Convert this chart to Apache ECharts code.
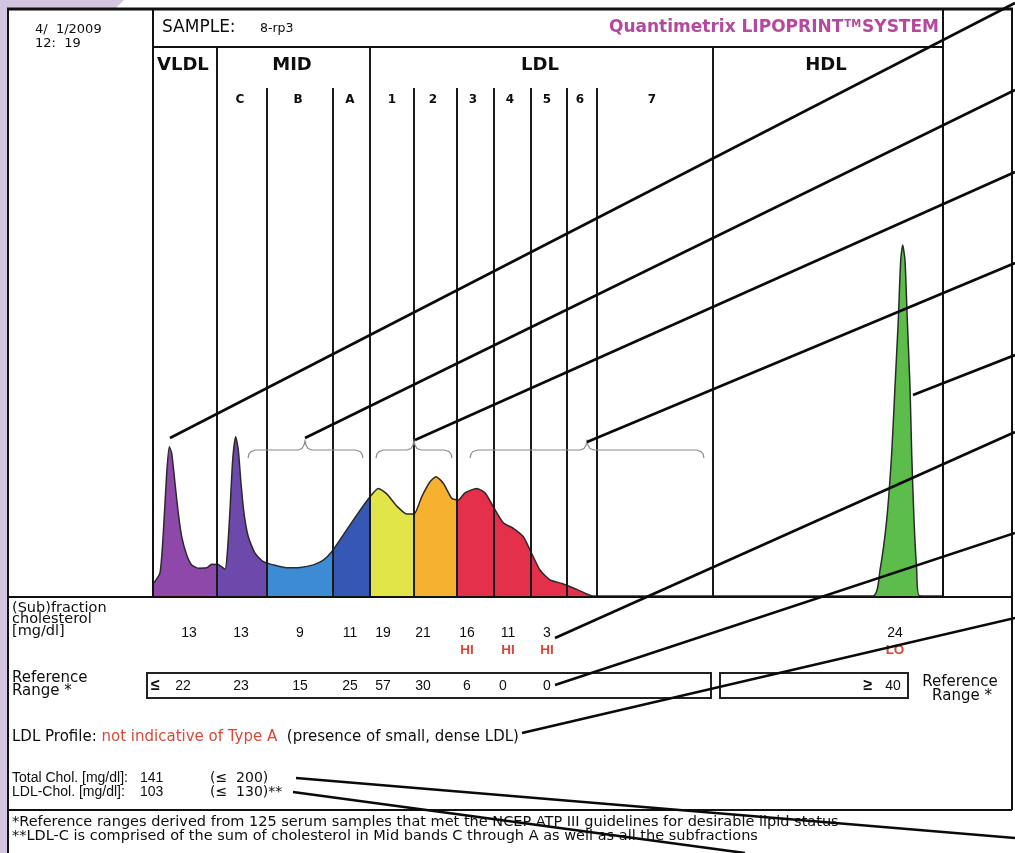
<!DOCTYPE html>
<html><head><meta charset="utf-8">
<script src="https://cdn.jsdelivr.net/npm/echarts/dist/echarts.min.js"></script>
<style>html,body{margin:0;padding:0;background:#fff}#c{width:1015px;height:853px}</style>
</head><body><div id="c"></div><script>
// ---------- DATA ----------
// Electrophoresis trace: relative mobility (0 = origin) and relative intensity
const traceMobility = [0,6,9.3,12.7,15.3,17.7,21,24.3,27.7,32.7,37.7,44.3,52.7,57.7,64.3,71,73.3,76,78.7,81.7,84.3,87,90,94.3,101,109.3,119.3,132.7,146,159.3,169.3,177.7,189.3,202.7,216,224.3,232.7,242.7,252.7,260,267.7,276,282,289.3,297.7,304.3,311,322.7,331,339.3,349.3,359.3,369.3,376,386,396,409.3,422.7,439.3,
  719.3,726,732.7,737.7,741,744.3,746.7,748.7,751,753.3,756,757.7,760,762.7,765.3,789];
const traceIntensity = [3.6,6.3,17.1,33.5,40.8,39.0,30.8,22.6,16.2,11.2,8.5,7.6,7.7,8.7,8.6,7.3,11.7,23.5,37.2,43.5,39.9,30.8,22.6,16.2,11.7,9.4,8.5,7.7,7.8,8.5,9.8,12.1,16.7,22.1,27.1,29.4,27.9,24.6,22.4,22.4,27.1,31.2,32.6,30.8,26.7,26.2,28.2,29.4,28.2,24.4,20.0,18.5,16.2,12.6,7.1,4.4,3.3,1.8,0,
  0.1,7.1,20.8,39.0,57.2,75.4,91.7,95.9,91.7,75.4,57.2,39.0,20.8,7.1,0.1,0];
// Band boundaries (mobility units)
const groupEdges = [63, 216, 559];                 // VLDL|MID, MID|LDL, LDL|HDL
const subEdges = [113, 179, 260, 303, 340, 377, 413, 443]; // C|B, B|A, 1|2, 2|3, 3|4, 4|5, 5|6, 6|7
const groupNames = ['VLDL', 'MID', 'LDL', 'HDL'];
const subNames = ['C','B','A','1','2','3','4','5','6','7'];
// Band colour ranges (mobility)
const bandRanges = [[-10,63],[63,113],[113,179],[179,216],[216,260],[260,303],[303,559],[559,800]];
// Table values
const fractionValues = [13,13,9,11,19,21,16,11,3];
const fractionFlags = ['','','','','','','HI','HI','HI'];
const referenceValues = ['≤ 22','23','15','25','57','30','6','0','0'];
const hdlValue = '24', hdlFlag = 'LO', hdlReference = '≥ 40';
const totalChol = '141', totalCholRef = '(≤  200)';
const ldlChol = '103', ldlCholRef = '(≤  130)';
const sampleId = '8-rp3', runDate = '4/  1/2009', runTime = '12:  19';
const profileText = 'not indicative of Type A';

// ---------- STYLE / LAYOUT ----------
const bandColors = ['#8d48a9','#6c49aa','#3e8bd5','#3658b4','#e2e547','#f6b22f','#e5304c','#5cbd4b'];
const FF = '"Liberation Sans", Arial, sans-serif';
const FD = '"DejaVu Sans", Verdana, sans-serif';
const valueX = [189,241,300,350,383,423,467,508,547];
const refX = [183,241,300,350,383,423,467,503,547];
const subLabelX = [240,298,350,392,433,473,510,547,580,652];
const groupLabel = [[157,'left'],[292,'center'],[540,'center'],[826,'center']];

const G = [];
function ln(x1,y1,x2,y2,w,c,z){G.push({type:'line',silent:true,z:z||50,shape:{x1,y1,x2,y2},style:{stroke:c||'#111',lineWidth:w||2}});}
function rc(x,y,w,h,fill,stroke,lw,z){G.push({type:'rect',silent:true,z:z||1,shape:{x,y,width:w,height:h},style:{fill:fill||'none',stroke:stroke||null,lineWidth:lw||0}});}
function tx(x,y,s,o){o=o||{};const al=o.align||'left';
  G.push({type:'text',silent:true,z:60,x,y,style:{text:s,fill:o.color||'#0e0e0e',font:(o.weight||'normal')+' '+(o.size||13)+'px '+(o.fam||FF),
    align:al,textAlign:al,verticalAlign:'middle',textVerticalAlign:'middle'}});}

// background lavender
rc(0,0,7,853,'#d3c5e0');
G.push({type:'polygon',silent:true,z:1,shape:{points:[[0,0],[124,0],[116,8],[0,8]]},style:{fill:'#d3c5e0'}});
// frame
ln(7,9,1013,9,3);
ln(8,9,8,853,2);
ln(1012,9,1012,810,2);
ln(153,9,153,597,2);
ln(943,9,943,597,2);
ln(153,47,943,47,2);
ln(8,597,1012,597,2);
ln(8,810,1012,810,2);
// header texts
tx(35,30,runDate,{size:13,fam:FD});
tx(35,44,runTime,{size:13,fam:FD});
tx(162,28,'SAMPLE:',{size:17,fam:FD});
tx(260,29,sampleId,{size:12.5,fam:FD});
G.push({type:'text',silent:true,z:60,x:939,y:28,style:{text:'{a|Quantimetrix LIPOPRINT}{b|TM}{a|SYSTEM}',align:'right',textAlign:'right',verticalAlign:'middle',textVerticalAlign:'middle',
  rich:{a:{font:'bold 17px '+FD,fill:'#b5489c',color:'#b5489c'},b:{font:'bold 10px '+FD,fill:'#b5489c',color:'#b5489c',verticalAlign:'top',padding:[0,1,8,1]}}}});
groupNames.forEach((n,i)=>tx(groupLabel[i][0],65,n,{size:18,weight:'bold',align:groupLabel[i][1],fam:FD}));
subNames.forEach((n,i)=>tx(subLabelX[i],100,n,{size:12,weight:'bold',align:'center',fam:FD}));
// brackets
function brace(x0,x1,xc){const y=450;
  G.push({type:'polyline',silent:true,z:40,shape:{points:[[x0,458],[x0+1,454],[x0+3,451.5],[x0+8,450],[xc-7,450],[xc-3,448.5],[xc-1,445],[xc,441],[xc+1,445],[xc+3,448.5],[xc+7,450],[x1-8,450],[x1-3,451.5],[x1-1,454],[x1,458]]},
    style:{fill:null,stroke:'#8a8a8a',lineWidth:1.2}});}
brace(248,363,305); brace(376,452,414); brace(470,704,587);
// table
tx(12,608,'(Sub)fraction',{size:14.5,fam:FD});
tx(12,619.5,'cholesterol',{size:14.5,fam:FD});
tx(12,631,'[mg/dl]',{size:14.5,fam:FD});
fractionValues.forEach((v,i)=>{tx(valueX[i],633,String(v),{size:14,align:'center'});
  if(fractionFlags[i]) tx(valueX[i],650,fractionFlags[i],{size:13.5,weight:'bold',align:'center',color:'#d24a3c'});});
tx(895,633,hdlValue,{size:14,align:'center'});
tx(895,650,hdlFlag,{size:13.5,weight:'bold',align:'center',color:'#d24a3c'});
tx(12,678,'Reference',{size:15,fam:FD});
tx(12,691,'Range *',{size:15,fam:FD});
rc(147,673,564,25,null,'#222',2,5);
rc(720,673,188,25,null,'#222',2,5);
referenceValues.forEach((v,i)=>{
  if(v.indexOf('≤')===0){tx(151,686,'≤',{size:16,weight:'bold'});tx(refX[i],686,v.replace('≤','').trim(),{size:14,align:'center'});}
  else tx(refX[i],686,v,{size:14,align:'center'});});
tx(868,686,hdlReference.split(' ')[0],{size:16,weight:'bold',align:'center'});
tx(893,686,hdlReference.split(' ')[1],{size:14,align:'center'});
tx(960,682,'Reference',{size:15,align:'center',fam:FD});
tx(962,696,'Range *',{size:15,align:'center',fam:FD});
G.push({type:'text',silent:true,z:60,x:12,y:737,style:{text:'{a|LDL Profile: }{r|'+profileText+'}{a|  (presence of small, dense LDL)}',verticalAlign:'middle',textVerticalAlign:'middle',
  rich:{a:{font:'15px '+FD,fill:'#0e0e0e',color:'#0e0e0e'},r:{font:'15px '+FD,fill:'#d44a3c',color:'#d44a3c'}}}});
tx(12,778,'Total Chol. [mg/dl]:',{size:14});
tx(12,792,'LDL-Chol. [mg/dl]:',{size:14});
tx(140,778,totalChol,{size:14});
tx(140,792,ldlChol,{size:14});
tx(210,778,totalCholRef,{size:14,fam:FD});
tx(210,792,ldlCholRef+'**',{size:14,fam:FD});
tx(12,822,'*Reference ranges derived from 125 serum samples that met the NCEP ATP III guidelines for desirable lipid status',{size:14.5,fam:FD});
tx(12,836,'**LDL-C is comprised of the sum of cholesterol in Mid bands C through A as well as all the subfractions',{size:14.5,fam:FD});
// leader lines
[[170,438,1015,3],[305,438,1015,90],[415,440,1015,172],[587,442,1015,263],[913,395,1015,355],
 [555,638,1015,432],[555,685,1015,533],[522,733,1015,618],[296,778,1015,838],[293,792,745,853]]
 .forEach(a=>ln(a[0],a[1],a[2],a[3],2.6,'#0a0a0a',100));

const traceData = traceMobility.map((m,i)=>[m,traceIntensity[i]]);
const markData = groupEdges.map(e=>[{coord:[e,0]},{coord:[e,150]}])
  .concat(subEdges.map(e=>[{coord:[e,0]},{coord:[e,138.8]}]));

const chart = echarts.init(document.getElementById('c'));
chart.setOption({
  animation:false,
  backgroundColor:'#fff',
  grid:{left:154,right:72,top:47,bottom:257},
  xAxis:{type:'value',min:0,max:789,show:false},
  yAxis:{type:'value',min:0,max:150,show:false},
  visualMap:{type:'piecewise',show:false,dimension:0,seriesIndex:0,
    pieces:bandRanges.map((r,i)=>({gte:r[0],lt:r[1],color:bandColors[i]}))},
  series:[
    {type:'line',data:traceData,showSymbol:false,smooth:0.2,lineStyle:{width:0},areaStyle:{opacity:1},z:2,silent:true},
    {type:'line',data:traceData,showSymbol:false,smooth:0.2,lineStyle:{width:1.5,color:'#2a2a2a'},itemStyle:{color:'#2a2a2a'},z:3,silent:true,
     markLine:{silent:true,symbol:['none','none'],label:{show:false},lineStyle:{color:'#1a1a1a',width:2,type:'solid'},data:markData}}
  ],
  graphic:{elements:G}
});
</script></body></html>
